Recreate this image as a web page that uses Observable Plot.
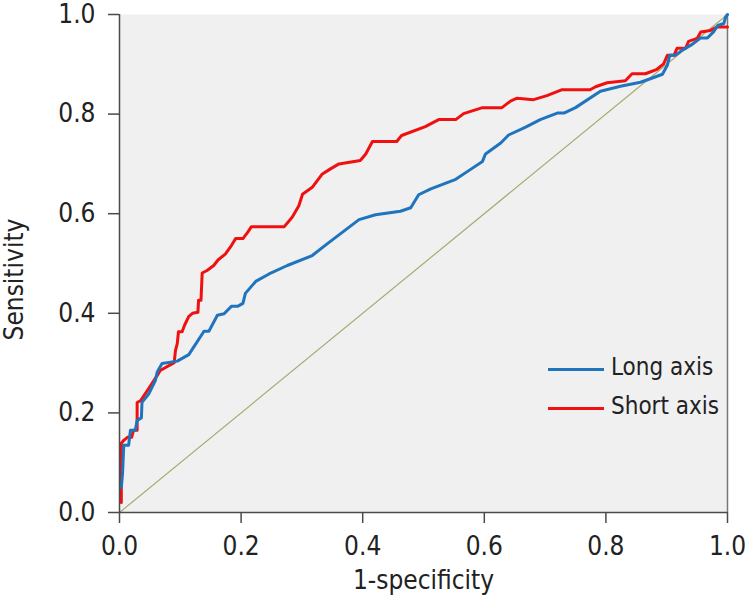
<!DOCTYPE html>
<html><head><meta charset="utf-8">
<script src="https://cdn.jsdelivr.net/npm/d3@7"></script>
<script src="https://cdn.jsdelivr.net/npm/@observablehq/plot@0.6"></script>
<style>
body{margin:0;background:#fff;}
#wrap{position:relative;width:754px;height:604px;}
.lg{position:absolute;font-family:"DejaVu Sans Condensed","DejaVu Sans",sans-serif;font-stretch:condensed;font-size:24px;color:#222;line-height:1;white-space:nowrap;}
.sw{position:absolute;height:3px;}
</style></head><body><div id="wrap"></div>
<script>
// Long axis ROC (1-specificity, sensitivity)
const longFpr = [0.003,0.005,0.007,0.015,0.018,0.026,0.029,0.036,0.037,0.048,0.059,0.062,0.070,0.095,0.114,0.122,0.139,0.147,0.161,0.172,0.184,0.194,0.203,0.207,0.224,0.246,0.276,0.317,0.342,0.394,0.421,0.462,0.479,0.492,0.512,0.553,0.575,0.597,0.602,0.627,0.640,0.668,0.692,0.720,0.731,0.750,0.791,0.824,0.857,0.873,0.893,0.901,0.905,0.914,0.925,0.942,0.956,0.967,0.977,0.984,0.994,0.997,1.0];
const longTpr = [0.050,0.078,0.135,0.135,0.165,0.165,0.185,0.190,0.221,0.238,0.265,0.282,0.299,0.304,0.317,0.332,0.364,0.364,0.396,0.399,0.414,0.414,0.420,0.440,0.464,0.479,0.496,0.516,0.540,0.588,0.598,0.605,0.612,0.638,0.650,0.669,0.687,0.705,0.720,0.742,0.758,0.774,0.789,0.802,0.802,0.813,0.846,0.856,0.864,0.871,0.880,0.898,0.918,0.918,0.928,0.940,0.953,0.953,0.965,0.978,0.982,0.995,1.0];
// Short axis ROC
const shortFpr = [0.003,0.003,0.007,0.013,0.020,0.023,0.029,0.029,0.035,0.048,0.064,0.067,0.090,0.092,0.095,0.097,0.103,0.107,0.114,0.120,0.129,0.130,0.134,0.136,0.144,0.155,0.162,0.174,0.184,0.191,0.203,0.211,0.217,0.271,0.284,0.295,0.301,0.317,0.333,0.347,0.361,0.396,0.405,0.416,0.456,0.464,0.503,0.525,0.553,0.566,0.597,0.629,0.643,0.654,0.681,0.703,0.728,0.774,0.783,0.802,0.832,0.843,0.865,0.884,0.895,0.901,0.912,0.917,0.931,0.936,0.950,0.956,0.972,0.983,1.0];
const shortTpr = [0.020,0.139,0.145,0.151,0.151,0.165,0.165,0.221,0.225,0.249,0.279,0.285,0.301,0.325,0.339,0.363,0.363,0.376,0.394,0.400,0.402,0.426,0.426,0.481,0.486,0.496,0.507,0.519,0.536,0.550,0.550,0.563,0.574,0.574,0.593,0.616,0.639,0.653,0.679,0.690,0.700,0.707,0.720,0.745,0.745,0.757,0.775,0.789,0.789,0.801,0.813,0.813,0.826,0.832,0.829,0.837,0.849,0.849,0.855,0.863,0.867,0.881,0.881,0.890,0.901,0.918,0.918,0.932,0.932,0.946,0.952,0.965,0.968,0.975,0.975];
// Reference diagonal
const diagX = [0, 1];
const diagY = [0, 1];
// Ticks
const tickValues = [0, 0.2, 0.4, 0.6, 0.8, 1.0];
const tickLabels = ["0.0", "0.2", "0.4", "0.6", "0.8", "1.0"];
const seriesNames = ["Long axis", "Short axis"];
const seriesColors = ["#1f74bd", "#f01010"];

const longData = longFpr.map((x, i) => ({x, y: longTpr[i]}));
const shortData = shortFpr.map((x, i) => ({x, y: shortTpr[i]}));
const diagData = diagX.map((x, i) => ({x, y: diagY[i]}));
const fmt = d => tickLabels[tickValues.indexOf(d)];
const font = '"DejaVu Sans Condensed","DejaVu Sans",sans-serif';
const axisColor = "#4a4a4a";

const chart = Plot.plot({
  width: 754, height: 604,
  marginLeft: 119, marginRight: 27, marginTop: 14, marginBottom: 92,
  style: {fontFamily: font, fontSize: "26px", color: "#222", background: "#fff", fontStretch: "condensed"},
  x: {domain: [0, 1]},
  y: {domain: [0, 1]},
  marks: [
    Plot.frame({fill: "#f0f0f0", stroke: null}),
    Plot.ruleX([1], {stroke: "#777", strokeWidth: 1.5}),
    Plot.line(diagData, {x: "x", y: "y", stroke: "#a9a972", strokeWidth: 1.2}),
    Plot.line(shortData, {x: "x", y: "y", stroke: seriesColors[1], strokeWidth: 3}),
    Plot.line(longData, {x: "x", y: "y", stroke: seriesColors[0], strokeWidth: 3}),
    Plot.ruleX([0], {stroke: axisColor, strokeWidth: 1.5}),
    Plot.ruleY([0], {stroke: axisColor, strokeWidth: 1.5}),
    Plot.axisX({ticks: tickValues, tickFormat: fmt, tickSize: 11, tickPadding: 13, label: null, stroke: axisColor, strokeWidth: 1.5, fill: "#222"}),
    Plot.axisY({ticks: tickValues, tickFormat: fmt, tickSize: 11, tickPadding: 13, label: null, stroke: axisColor, strokeWidth: 1.5, fill: "#222"}),
    Plot.text(["1-specificity"], {text: d => d, frameAnchor: "bottom", dy: 68, lineAnchor: "middle", fontSize: 26, fill: "#222"}),
    Plot.text(["Sensitivity"], {text: d => d, frameAnchor: "left", dx: -105, dy: 16, rotate: -90, textAnchor: "middle", lineAnchor: "middle", fontSize: 26, fill: "#222"})
  ]
});
const wrap = document.getElementById("wrap");
wrap.appendChild(chart);

// Legend
const legendRows = [{y: 369}, {y: 408}];
seriesNames.forEach((name, i) => {
  const sw = document.createElement("div");
  sw.className = "sw";
  sw.style.left = "548px"; sw.style.width = "56px";
  sw.style.top = (legendRows[i].y - 1.5) + "px";
  sw.style.background = seriesColors[i];
  wrap.appendChild(sw);
  const t = document.createElement("div");
  t.className = "lg";
  t.textContent = name;
  t.style.left = "611px";
  t.style.top = (legendRows[i].y - 14) + "px";
  wrap.appendChild(t);
});
</script>
</body></html>
